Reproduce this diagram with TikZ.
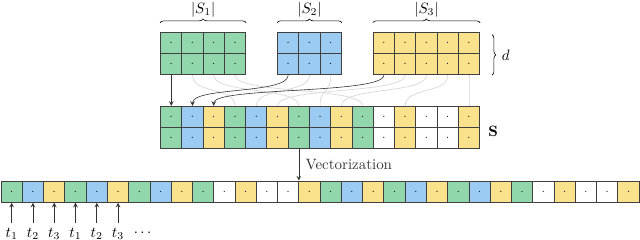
\documentclass[tikz,border=0pt]{standalone}
\usepackage{xcolor}
\usepackage{tikz}
\usetikzlibrary{decorations.pathreplacing}

\definecolor{cgreen}{RGB}{146,214,172}
\definecolor{cblue}{RGB}{155,203,240}
\definecolor{cyellow}{RGB}{250,225,140}

\begin{document}
\begin{tikzpicture}[x=0.5cm, y=0.5cm, >=stealth,
        cell/.style={draw=black!75, line width=0.6pt, minimum size=0.5cm, inner sep=0pt, font=\scriptsize},
        link/.style={black!15, line width=0.5pt},
        brace/.style={decorate, decoration={brace, amplitude=2.5pt}}]
        \useasboundingbox (0,0) rectangle (30.09,11.28);
        \def\pattern{cgreen,cblue,cyellow,cgreen,cblue,cyellow,cgreen,cblue,cyellow,cgreen,white,cyellow,white,white,cyellow}

        % the three sets
        \foreach \r in {1,2} {
            \foreach \c in {1,...,4} \node[cell, fill=cgreen] (a\r\c) at (7.05+\c, 10.27-\r) {$\cdot$};
            \foreach \c in {1,...,3} \node[cell, fill=cblue] (b\r\c) at (12.55+\c, 10.27-\r) {$\cdot$};
            \foreach \c in {1,...,5} \node[cell, fill=cyellow] (c\r\c) at (17.05+\c, 10.27-\r) {$\cdot$};
        }

        % merged matrix S
        \foreach \r in {1,2}
            \foreach \col [count=\c] in \pattern
                \node[cell, fill=\col] (m\r-\c) at (7.05+\c, 6.78-\r) {$\cdot$};

        % vector
        \foreach \k in {0,1}
            \foreach \col [count=\c] in \pattern {
                \pgfmathtruncatemacro\i{\c+15*\k}
                \node[cell, fill=\col] (v\i) at (\i-0.45, 2.27) {$\cdot$};
            }

        % braces
        \draw[brace] ([yshift=6pt]a11.north west) -- ([yshift=6pt]a14.north east) node[midway, above=0pt] {$|S_1|$};
        \draw[brace] ([yshift=6pt]b11.north west) -- ([yshift=6pt]b13.north east) node[midway, above=0pt] {$|S_2|$};
        \draw[brace] ([yshift=6pt]c11.north west) -- ([yshift=6pt]c15.north east) node[midway, above=0pt] {$|S_3|$};
        \draw[brace] ([xshift=8pt, yshift=-2pt]c15.north east) -- ([xshift=8pt]c25.south east) node[midway, right=3pt] {$d$};
        \node (slabel) at (23.19, 5.1) {$\mathbf{S}$};

        % columns into S
        \foreach \c/\j in {2/4, 3/7, 4/10}
            \draw[link] (a2\c.south) .. controls +(0,-0.9) and +(0,0.9) .. (m1-\j.north);
        \foreach \c/\j in {2/5, 3/8}
            \draw[link] (b2\c.south) .. controls +(0,-0.9) and +(0,0.9) .. (m1-\j.north);
        \foreach \c/\j in {2/6, 3/9, 4/12, 5/15}
            \draw[link] (c2\c.south) .. controls +(0,-0.9) and +(0,0.9) .. (m1-\j.north);
        \draw[->, black!80] (a21.south) -- (m1-1.north);
        \draw[->, black!80] (b21.south) .. controls +(0,-0.9) and +(0,0.9) .. (m1-2.north);
        \draw[->, black!80] (c21.south) .. controls +(0,-0.9) and +(0,0.9) .. (m1-3.north);

        \draw[->, black!80] (m2-7.south) -- (m2-7.south |- v14.north) node[midway, right=1pt] {Vectorization};

        % time steps
        \foreach \i/\k in {1/1, 2/2, 3/3, 4/1, 5/2, 6/3} {
            \node (t\i) at (\i-0.45, 0.3) {$t_{\k}$};
            \draw[->, black!80] (t\i.north) -- (v\i.south);
        }
        \node (tdots) at (6.7, 0.3) {$\cdots$};
    \end{tikzpicture}
\end{document}
